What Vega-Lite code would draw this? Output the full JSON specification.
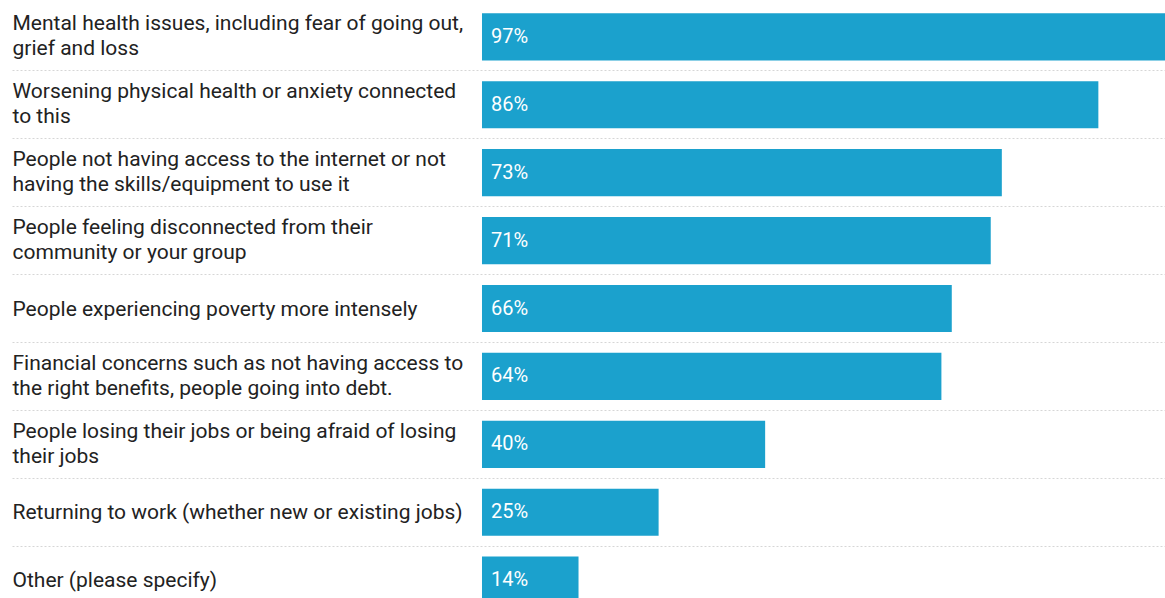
{
  "$schema": "https://vega.github.io/schema/vega-lite/v6.json",
  "width": 1153,
  "height": 617,
  "autosize": {"type": "none"},
  "padding": {"left": 12, "top": 0, "right": 0, "bottom": 0},
  "background": "#ffffff",
  "config": {
    "view": {"stroke": null},
    "font": "Roboto"
  },
  "data": {
    "values": [
      {"cat": "Mental health issues, including fear of going out,|grief and loss", "value": 97, "label": "97%"},
      {"cat": "Worsening physical health or anxiety connected|to this", "value": 86.2, "label": "86%"},
      {"cat": "People not having access to the internet or not|having the skills/equipment to use it", "value": 72.7, "label": "73%"},
      {"cat": "People feeling disconnected from their|community or your group", "value": 71.15, "label": "71%"},
      {"cat": "People experiencing poverty more intensely", "value": 65.7, "label": "66%"},
      {"cat": "Financial concerns such as not having access to|the right benefits, people going into debt.", "value": 64.25, "label": "64%"},
      {"cat": "People losing their jobs or being afraid of losing|their jobs", "value": 39.6, "label": "40%"},
      {"cat": "Returning to work (whether new or existing jobs)", "value": 24.7, "label": "25%"},
      {"cat": "Other (please specify)", "value": 13.5, "label": "14%"}
    ]
  },
  "encoding": {
    "y": {
      "field": "cat",
      "type": "nominal",
      "sort": null,
      "scale": {"paddingInner": 0.305, "paddingOuter": 0.195},
      "axis": {
        "title": null,
        "orient": "left",
        "ticks": false,
        "domain": false,
        "grid": true,
        "gridColor": "#d6d6d6",
        "gridDash": [2, 2],
        "gridWidth": 1,
        "bandPosition": 1.2194,
        "labelAlign": "left",
        "labelBaseline": "middle",
        "labelPadding": 0,
        "labelOffset": {"expr": "indexof(datum.label, '|') >= 0 ? -12.5 : 1"},
        "labelLimit": 0,
        "labelFont": "Roboto",
        "labelFontSize": 21,
        "labelColor": "#222222",
        "labelLineHeight": 25,
        "labelExpr": "split(datum.label, '|')"
      }
    }
  },
  "layer": [
    {
      "mark": {"type": "bar", "color": "#1ba1cd", "clip": true},
      "encoding": {
        "x": {
          "field": "value",
          "type": "quantitative",
          "scale": {"domain": [-65.73, 95.52], "nice": false, "zero": false},
          "axis": null
        }
      }
    },
    {
      "mark": {"type": "text", "align": "left", "baseline": "middle", "dx": 9, "fontSize": 20, "color": "#ffffff", "font": "Roboto"},
      "encoding": {
        "x": {"datum": 0, "type": "quantitative"},
        "text": {"field": "label"}
      }
    }
  ]
}
